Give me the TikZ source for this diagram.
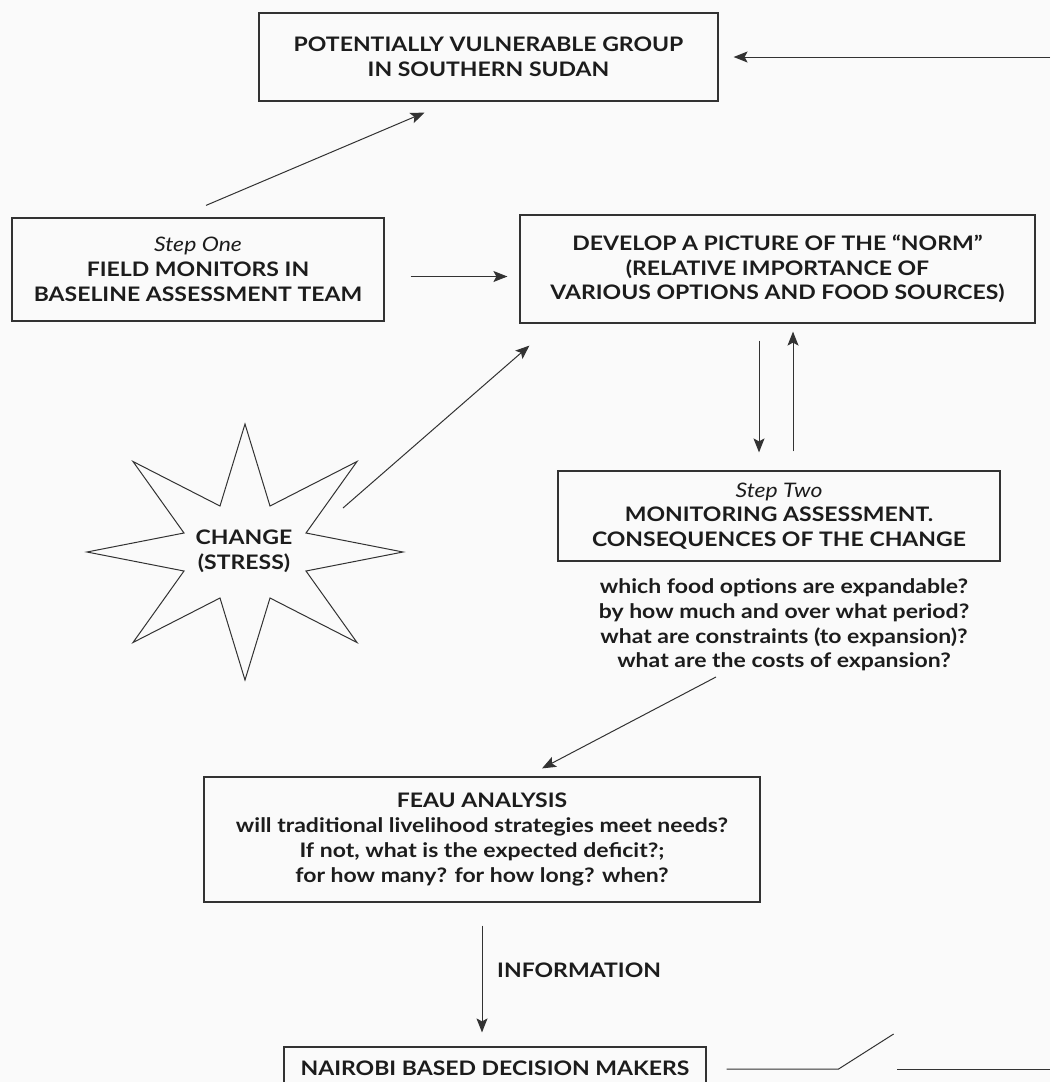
\documentclass[tikz,border=0pt]{standalone}
\usepackage{fontspec}
\setmainfont{Lato}[FakeStretch=1.15]
\usetikzlibrary{arrows.meta,calc}
\definecolor{bgc}{RGB}{250,250,250}
\definecolor{linec}{RGB}{50,50,50}
\definecolor{txtc}{RGB}{28,28,28}
\newcommand\myfs{\fontsize{20}{24.7}\selectfont\bfseries}
\begin{document}
\begin{tikzpicture}[x=1pt,y=-1pt,
  box/.style={draw=linec, line width=1.2pt, rectangle, inner sep=0pt, align=center, font=\myfs, text=txtc},
  plain/.style={inner sep=0pt, align=center, font=\myfs, text=txtc},
  arr/.style={draw=linec, line width=1pt, -{Stealth[length=14pt,width=11pt,inset=3pt]}},
  ln/.style={draw=linec, line width=1pt},
  starline/.style={draw=linec, line width=1pt, line join=miter}]
\useasboundingbox (0,0) rectangle (1050,1082);
\clip (0,0) rectangle (1050,1082);
\fill[bgc] (0,0) rectangle (1050,1082);

% boxes
\node[box, minimum width=459pt, minimum height=88pt] (top) at (488.5,57)
  {POTENTIALLY VULNERABLE GROUP\\IN SOUTHERN SUDAN};
\node[box, minimum width=372pt, minimum height=103pt] (stepone) at (198,269.5)
  {{\mdseries\itshape Step One}\\FIELD MONITORS IN\\BASELINE ASSESSMENT TEAM};
\node[box, minimum width=515pt, minimum height=108pt] (norm) at (777.5,269)
  {DEVELOP A PICTURE OF THE “NORM”\\(RELATIVE IMPORTANCE OF\\VARIOUS OPTIONS AND FOOD SOURCES)};
\node[box, minimum width=442pt, minimum height=90pt] (steptwo) at (779,516)
  {{\mdseries\itshape Step Two}\\MONITORING ASSESSMENT.\\CONSEQUENCES OF THE CHANGE};
\node[plain] (questions) at (784,625)
  {which food options are expandable?\\by how much and over what period?\\what are constraints (to expansion)?\\what are the costs of expansion?};
\node[box, minimum width=556pt, minimum height=125pt] (feau) at (482,839.5)
  {FEAU ANALYSIS\\will traditional livelihood strategies meet needs?\\If not, what is the expected deficit?;\\for how many? for how long? when?};
\node[box, minimum width=422pt, minimum height=42pt] (nairobi) at (495,1068)
  {NAIROBI BASED DECISION MAKERS};
\node[plain, anchor=west] (info) at (497,970) {INFORMATION};

% star
\draw[starline] (403,552) -- (306,533) -- (357,461.5) -- (270,506) -- (245,424)
  -- (220,506) -- (133,461.5) -- (184,533) -- (87,552) -- (184,571) -- (133,642.5)
  -- (220,598) -- (245,680) -- (270,598) -- (357,642.5) -- (306,571) -- cycle;
\node[plain] (stress) at (244,551) {CHANGE\\(STRESS)};

% connectors
\coordinate (rin) at (1050,57);
\draw[arr, shorten >=15pt] (rin) -- (top.east);
\draw[arr] ($(stepone.north)+(8,-12)$) -- ($(top.south)+(-64,11)$);
\draw[arr, shorten <=26pt, shorten >=12pt] ([yshift=-7pt]stepone.east) -- ([yshift=-7pt]stepone.east -| norm.west);
\coordinate (starout) at (343,508);
\draw[arr] (starout) -- ($(norm.south west)+(10,22)$);
\draw[arr, shorten <=17pt, shorten >=18pt] ([xshift=-18.5pt]norm.south) -- ([xshift=-18.5pt]norm.south |- steptwo.north);
\draw[arr, shorten <=19pt, shorten >=8pt] ([xshift=14pt]steptwo.north) -- ([xshift=14pt]steptwo.north |- norm.south);
\coordinate (qout) at (716,677);
\draw[arr] (qout) -- ($(feau.north)+(60,-8)$);
\draw[arr, shorten <=23pt, shorten >=14pt] (feau.south) -- (feau.south |- nairobi.north);
\draw[ln] ([xshift=20pt,yshift=-1pt]nairobi.east) -- ++(112,0) -- ++(55,-35);
\coordinate (swa) at (897,1069);
\coordinate (swb) at (1050,1069);
\draw[ln] (swa) -- (swb);
\end{tikzpicture}
\end{document}
